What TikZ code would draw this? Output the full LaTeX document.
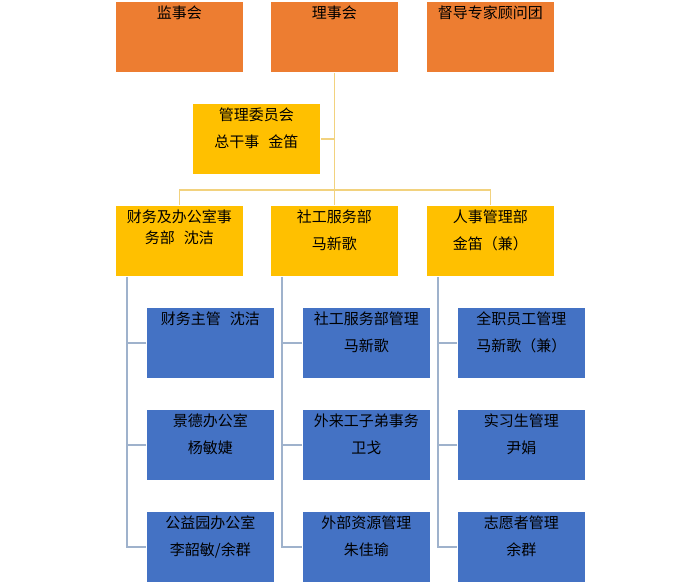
\documentclass[tikz,border=0pt]{standalone}
\usepackage{fontspec}
\setmainfont{Noto Sans CJK SC}
\usepackage{xcolor}
\definecolor{boardorange}{HTML}{ED7D31}
\definecolor{deptgold}{HTML}{FFC000}
\definecolor{unitblue}{HTML}{4472C4}
\definecolor{goldlink}{HTML}{F2D27E}
\definecolor{bluelink}{HTML}{9FB2CC}
\newcommand{\cell}[1]{\parbox[c][71pt][t]{128pt}{\centering\vspace*{4.5pt}#1}}
\tikzset{
  box/.style={rectangle,draw=white,line width=0.8pt,inner sep=0pt,
    anchor=north west,font=\fontsize{15}{27}\selectfont},
  board/.style={box,fill=boardorange},
  dept/.style={box,fill=deptgold},
  unit/.style={box,fill=unitblue},
  goldline/.style={draw=goldlink,line width=1.2pt},
  blueline/.style={draw=bluelink,line width=1.2pt}
}

\begin{document}
\begin{tikzpicture}[x=1pt,y=-1pt]
  \useasboundingbox (0,0) rectangle (700,583);
  \node[board] (supervisors) at (115,1) {\cell{监事会}};
  \node[board] (council) at (270,1) {\cell{理事会}};
  \node[board] (advisors) at (426,1) {\cell{督导专家顾问团}};
  \node[dept] (committee) at (192,103) {\cell{管理委员会\\总干事\hspace{.6em}金笛}};
  \node[dept] (finance) at (115,205) {\cell{财务及办公室事\\[-6pt]务部\hspace{.6em}沈洁}};
  \node[dept] (social) at (270,205) {\cell{社工服务部\\马新歌}};
  \node[dept] (hr) at (426,205) {\cell{人事管理部\\金笛（兼）}};
  \foreach \name/\x/\y/\txt in {
      f1/146/307/{财务主管\hspace{.6em}沈洁}, f2/146/409/{景德办公室\\杨敏婕},
      f3/146/511/{公益园办公室\\李韶敏/余群},
      s1/302/307/{社工服务部管理\\马新歌}, s2/302/409/{外来工子弟事务\\卫戈},
      s3/302/511/{外部资源管理\\朱佳瑜},
      h1/457/307/{全职员工管理\\马新歌（兼）}, h2/457/409/{实习生管理\\尹娟},
      h3/457/511/{志愿者管理\\余群}}
    \node[unit] (\name) at (\x,\y) {\cell{\txt}};

  \coordinate (bus) at (council.south |- 0,190);
  \draw[goldline] (council.south) -- (bus);
  \draw[goldline] (committee.east) -- (committee.east -| council.south);
  \draw[goldline] (finance.north) |- (bus) -| (hr.north);
  \draw[goldline] (bus) -- (social.north);

  \foreach \dep/\first/\second/\third in {finance/f1/f2/f3,social/s1/s2/s3,hr/h1/h2/h3}{
    \coordinate (\dep-spine) at ([xshift=12pt]\dep.south west);
    \draw[blueline] (\dep-spine) |- (\third.west);
    \draw[blueline] (\first.west) -- (\first.west -| \dep-spine);
    \draw[blueline] (\second.west) -- (\second.west -| \dep-spine);
  }
\end{tikzpicture}
\end{document}
